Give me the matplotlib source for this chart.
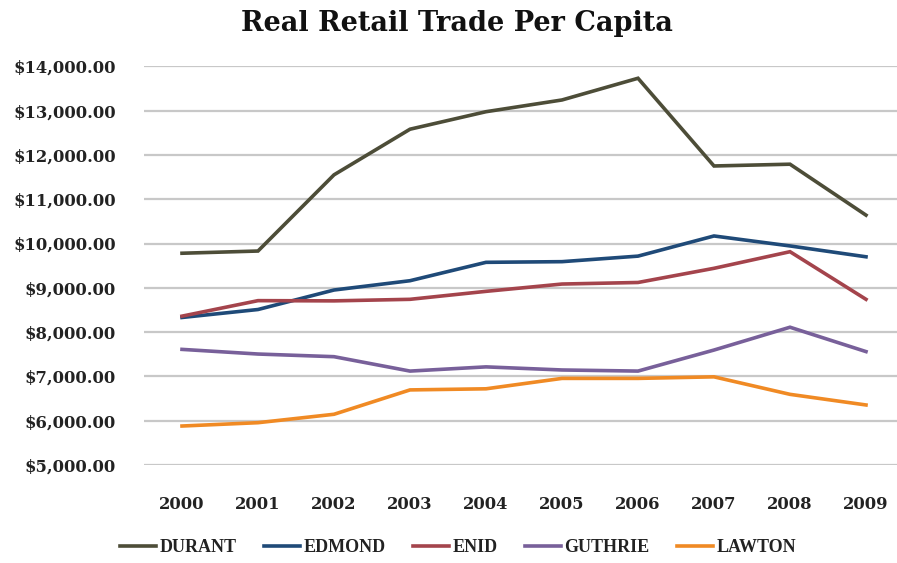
import matplotlib
matplotlib.use("Agg")
import matplotlib.pyplot as plt
from matplotlib.ticker import FuncFormatter

years = ["2000", "2001", "2002", "2003", "2004", "2005", "2006", "2007", "2008", "2009"]
durant = [9780, 9830, 11550, 12580, 12975, 13240, 13730, 11750, 11790, 10640]
edmond = [8330, 8510, 8950, 9160, 9575, 9590, 9715, 10170, 9945, 9700]
enid = [8360, 8710, 8705, 8740, 8920, 9085, 9120, 9440, 9815, 8740]
guthrie = [7610, 7505, 7445, 7120, 7215, 7145, 7120, 7595, 8110, 7560]
lawton = [5880, 5955, 6145, 6695, 6720, 6955, 6955, 6990, 6595, 6355]

series = [
    ("DURANT", durant, "#4d4d38"),
    ("EDMOND", edmond, "#1f4a78"),
    ("ENID", enid, "#a4444c"),
    ("GUTHRIE", guthrie, "#78609a"),
    ("LAWTON", lawton, "#f08a24"),
]

fig = plt.figure(figsize=(8.97, 5.63), dpi=100)
ax = fig.add_axes([144 / 897, 98 / 563, 760 / 897, 398.7 / 563])

x = list(range(len(years)))
handles = []
for name, vals, col in series:
    (h,) = ax.plot(x, vals, color=col, lw=2.6, label=name, clip_on=False,
                   solid_joinstyle="miter")
    handles.append(h)

ax.set_xlim(-0.5, len(years) - 0.5)
ax.set_ylim(5000, 14000)
ax.set_yticks(range(5000, 14001, 1000))
ax.yaxis.set_major_formatter(FuncFormatter(lambda v, p: f"${v:,.2f}"))
ax.set_xticks(x)
ax.set_xticklabels(years)
ax.grid(axis="y", color="#c8c8c8", lw=1.6)
ax.set_axisbelow(True)
for s in ax.spines.values():
    s.set_visible(False)
ax.tick_params(length=0)
ax.tick_params(axis="y", pad=20)
ax.tick_params(axis="x", pad=22)
for lab in ax.get_yticklabels() + ax.get_xticklabels():
    lab.set_fontfamily("DejaVu Serif")
    lab.set_fontweight("bold")
    lab.set_fontsize(11.8)
    lab.set_color("#222222")

title_font = {"family": "DejaVu Serif", "weight": "bold", "size": 19.5}
fig.text(0.509, 0.958, "Real Retail Trade Per Capita", ha="center", va="center",
         color="#111111", fontdict=title_font)

legend_font = {"family": "Liberation Serif", "weight": "bold", "size": 13}
leg = fig.legend(handles=handles, loc="center", bbox_to_anchor=(458 / 897, 1 - 548 / 563),
                 ncol=5, frameon=False, handlelength=2.0, handletextpad=0.2,
                 columnspacing=1.5, prop=legend_font)
for t in leg.get_texts():
    t.set_color("#222222")

fig.savefig("out.png", dpi=100)
